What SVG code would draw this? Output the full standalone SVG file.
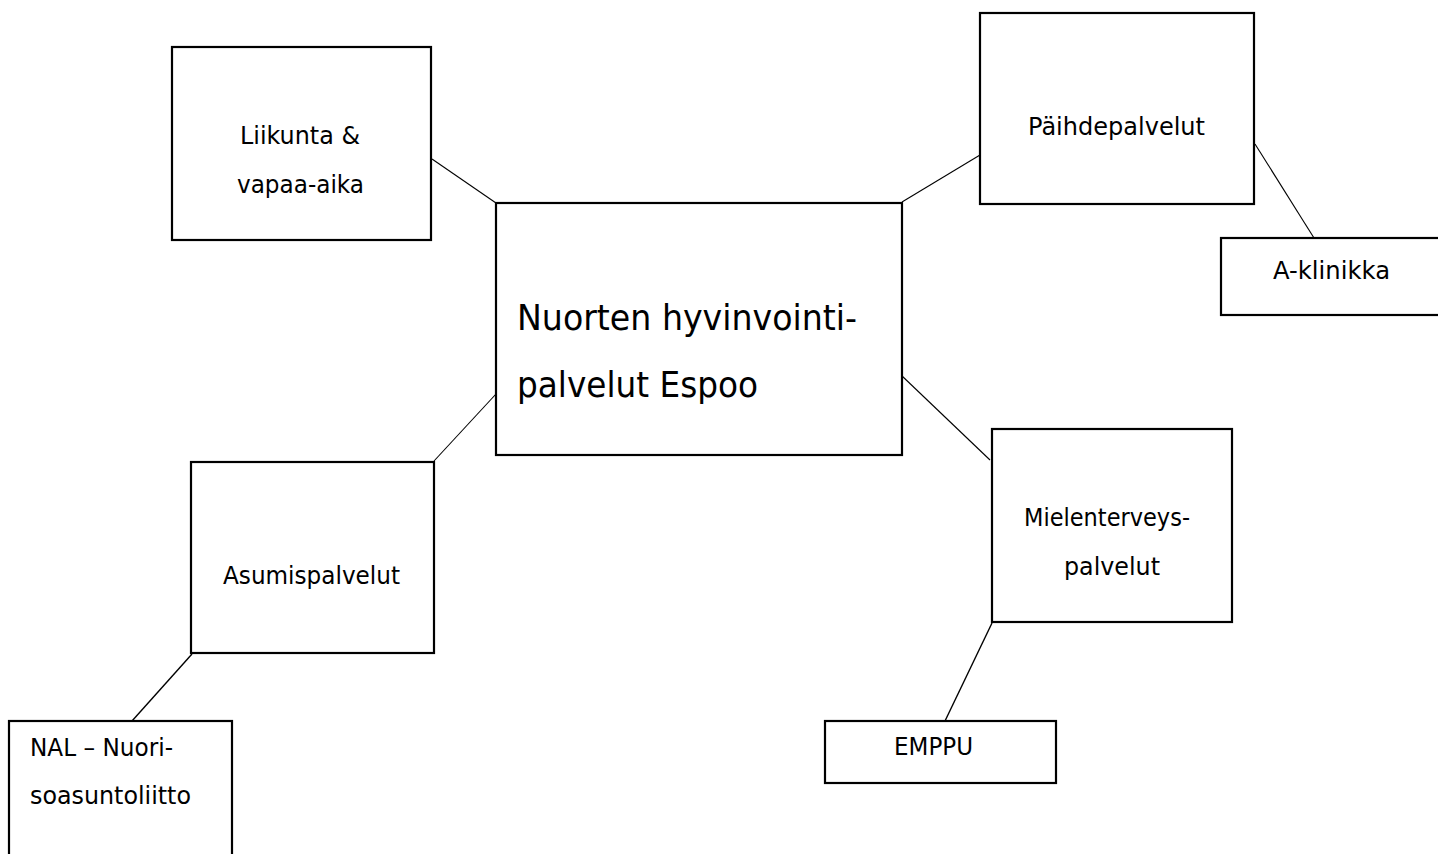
<svg xmlns="http://www.w3.org/2000/svg" width="1438" height="854" viewBox="0 0 1438 854">
<style>
.box{fill:#fff;stroke:#000;stroke-width:2.2}
.t{font-family:"DejaVu Sans","Liberation Sans",sans-serif;font-size:24px;fill:#000}
.big{font-size:36px}
.c{stroke:#000;stroke-width:1.1;fill:none}
.c2{stroke:#000;stroke-width:1.4;fill:none}
</style>
<rect width="1438" height="854" fill="#fff"/>
<g id="connectors">
<line class="c" x1="432" y1="159" x2="496" y2="203"/>
<line class="c" x1="902" y1="202" x2="980" y2="155"/>
<line class="c" x1="496" y1="394" x2="434" y2="461"/>
<line class="c" x1="901" y1="375" x2="990" y2="460"/>
<line class="c" x1="1255" y1="144" x2="1314" y2="238"/>
<line class="c2" x1="192" y1="654" x2="132" y2="721"/>
<line class="c2" x1="992" y1="623" x2="945" y2="721"/>
</g>
<g id="liikunta">
<rect class="box" x="172" y="47" width="259" height="193"/>
<text class="t" x="240" y="144" textLength="120" lengthAdjust="spacingAndGlyphs">Liikunta &amp;</text>
<text class="t" x="237" y="193" textLength="127" lengthAdjust="spacingAndGlyphs">vapaa-aika</text>
</g>
<g id="central">
<rect class="box" x="496" y="203" width="406" height="252"/>
<text class="t big" x="517" y="330" textLength="340" lengthAdjust="spacingAndGlyphs">Nuorten hyvinvointi-</text>
<text class="t big" x="517" y="397" textLength="241" lengthAdjust="spacingAndGlyphs">palvelut Espoo</text>
</g>
<g id="paihde">
<rect class="box" x="980" y="13" width="274" height="191"/>
<text class="t" x="1028" y="135" textLength="177" lengthAdjust="spacingAndGlyphs">Päihdepalvelut</text>
</g>
<g id="aklinikka">
<rect class="box" x="1221" y="238" width="240" height="77"/>
<text class="t" x="1273" y="279" textLength="117" lengthAdjust="spacingAndGlyphs">A-klinikka</text>
</g>
<g id="asumis">
<rect class="box" x="191" y="462" width="243" height="191"/>
<text class="t" x="223" y="584" textLength="177" lengthAdjust="spacingAndGlyphs">Asumispalvelut</text>
</g>
<g id="nal">
<rect class="box" x="9" y="721" width="223" height="160"/>
<text class="t" x="30" y="756" textLength="143" lengthAdjust="spacingAndGlyphs">NAL – Nuori-</text>
<text class="t" x="30" y="804" textLength="161" lengthAdjust="spacingAndGlyphs">soasuntoliitto</text>
</g>
<g id="mielen">
<rect class="box" x="992" y="429" width="240" height="193"/>
<text class="t" x="1024" y="526" textLength="166" lengthAdjust="spacingAndGlyphs">Mielenterveys-</text>
<text class="t" x="1064" y="575" textLength="96" lengthAdjust="spacingAndGlyphs">palvelut</text>
</g>
<g id="emppu">
<rect class="box" x="825" y="721" width="231" height="62"/>
<text class="t" x="894" y="755" textLength="79" lengthAdjust="spacingAndGlyphs">EMPPU</text>
</g>
</svg>
